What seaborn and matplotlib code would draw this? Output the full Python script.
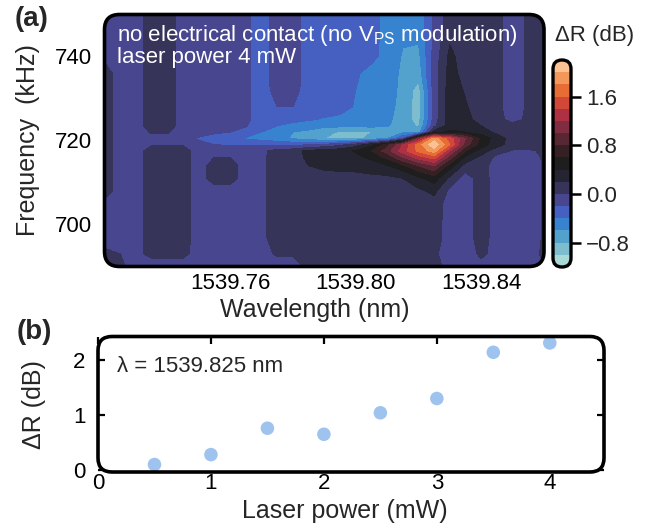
import numpy as np
import matplotlib
matplotlib.use("Agg")
import matplotlib.pyplot as plt
import seaborn as sns
from matplotlib.patches import FancyBboxPatch
from matplotlib.transforms import IdentityTransform

# ---------------- data ----------------
wavelength_nm = [1539.720 + 0.005 * i for i in range(29)]
frequency_khz = [690, 693, 697, 701, 705, 708, 711, 714, 716, 717.5, 719,
                 720.5, 722, 723.5, 725, 728, 732, 736, 740, 744, 748, 750]

# dR map (dB), one row per frequency (bottom -> top), 29 wavelength columns
dR_map = [
    [0.05, 0.05, -0.1, -0.1, -0.1, -0.1, -0.1, -0.1, -0.1, -0.1, -0.1, -0.1, -0.1, 0.05, 0.05, 0.05, 0.05, 0.05, 0.05, 0.05, 0.05, 0.05, -0.05, -0.05, -0.05, -0.05, -0.05, -0.05, 0.0],
    [0.05, 0.0, -0.05, 0.05, 0.05, 0.05, -0.08, -0.08, -0.08, -0.08, -0.08, 0.03, 0.03, 0.03, 0.03, 0.03, 0.03, 0.03, 0.03, 0.03, 0.03, 0.03, -0.08, -0.08, 0.03, -0.05, -0.05, -0.05, 0.02],
    [-0.1, -0.1, -0.1, 0.1, 0.1, 0.1, -0.1, -0.1, -0.1, -0.1, -0.05, 0.1, 0.1, 0.1, 0.1, 0.1, 0.1, 0.1, 0.1, 0.1, 0.1, 0.1, -0.1, -0.1, 0.1, -0.1, -0.1, -0.1, 0.02],
    [-0.08, -0.1, -0.1, 0.1, 0.1, 0.1, -0.1, -0.1, -0.1, -0.1, -0.05, 0.1, 0.1, 0.1, 0.1, 0.1, 0.1, 0.1, 0.1, 0.1, 0.1, 0.1, -0.1, -0.1, 0.1, -0.1, -0.1, -0.1, 0.02],
    [-0.05, -0.1, -0.1, 0.1, 0.1, 0.1, -0.1, -0.1, -0.1, -0.1, -0.05, 0.1, 0.1, 0.1, 0.1, 0.1, 0.1, 0.1, 0.1, 0.1, 0.12, 0.12, -0.1, -0.1, 0.1, -0.1, -0.1, -0.1, 0.02],
    [0.1, -0.1, -0.1, 0.1, 0.1, 0.1, -0.1, -0.1, -0.1, -0.1, -0.05, 0.1, 0.12, 0.12, 0.12, 0.12, 0.12, 0.12, 0.12, 0.13, 0.16, 0.25, -0.05, -0.1, 0.1, -0.1, -0.1, -0.1, 0.02],
    [0.1, -0.1, -0.1, 0.1, 0.1, 0.1, -0.1, 0.1, 0.1, -0.1, -0.05, 0.1, 0.12, 0.14, 0.15, 0.15, 0.15, 0.15, 0.15, 0.2, 0.35, 0.5, 0.15, -0.1, 0.1, -0.1, -0.1, -0.1, 0.02],
    [0.1, -0.1, -0.1, 0.1, 0.1, 0.1, -0.1, 0.1, 0.1, -0.1, -0.05, 0.1, 0.14, 0.2, 0.23, 0.24, 0.25, 0.3, 0.38, 0.55, 0.8, 1.0, 0.5, 0.12, 0.08, -0.1, -0.1, -0.1, 0.02],
    [0.1, -0.1, -0.1, 0.1, 0.1, 0.1, -0.1, 0.0, 0.0, -0.1, -0.05, 0.1, 0.12, 0.24, 0.28, 0.3, 0.35, 0.45, 0.65, 1.0, 1.3, 1.5, 0.9, 0.35, 0.15, -0.05, -0.08, -0.08, 0.02],
    [0.1, -0.1, -0.1, 0.1, 0.1, 0.1, -0.1, -0.05, -0.05, -0.1, -0.05, 0.08, 0.12, 0.25, 0.3, 0.33, 0.42, 0.6, 0.9, 1.3, 1.65, 1.9, 1.2, 0.6, 0.3, 0.08, -0.02, -0.02, 0.02],
    [0.1, -0.1, -0.1, -0.02, -0.02, -0.02, -0.15, -0.2, -0.22, -0.22, -0.22, -0.22, -0.25, -0.2, -0.15, -0.05, 0.1, 0.35, 0.7, 1.2, 1.7, 2.15, 1.6, 0.9, 0.5, 0.28, 0.1, 0.05, 0.05],
    [0.1, -0.1, -0.1, -0.05, -0.05, -0.1, -0.22, -0.3, -0.35, -0.42, -0.48, -0.55, -0.62, -0.7, -0.8, -0.85, -0.85, -0.75, -0.6, -0.2, 1.0, 1.9, 1.5, 1.0, 0.55, 0.3, 0.12, 0.05, 0.1],
    [0.1, -0.1, -0.1, 0.02, 0.02, -0.1, -0.12, -0.16, -0.2, -0.28, -0.4, -0.5, -0.6, -0.65, -0.75, -0.82, -0.85, -0.8, -0.7, -0.66, -0.7, 0.3, 0.45, 0.4, 0.3, 0.15, 0.05, 0.05, 0.1],
    [0.1, -0.1, -0.1, 0.1, 0.1, -0.1, -0.1, -0.1, -0.1, -0.18, -0.35, -0.4, -0.45, -0.5, -0.55, -0.55, -0.55, -0.55, -0.58, -0.72, -0.82, -0.05, 0.3, 0.3, 0.2, 0.08, 0.05, 0.05, 0.1],
    [0.1, -0.1, -0.1, 0.1, 0.1, -0.1, -0.1, -0.1, -0.1, -0.15, -0.32, -0.32, -0.35, -0.38, -0.42, -0.45, -0.5, -0.52, -0.55, -0.7, -0.88, -0.1, 0.3, 0.26, 0.12, 0.05, -0.05, 0.03, 0.1],
    [0.1, -0.1, -0.1, 0.1, 0.1, -0.1, -0.1, -0.1, -0.1, -0.15, -0.3, -0.2, -0.2, -0.3, -0.3, -0.32, -0.42, -0.5, -0.52, -0.68, -0.9, -0.1, 0.3, 0.22, 0.1, 0.05, -0.1, 0.03, 0.1],
    [0.1, -0.1, -0.1, 0.1, 0.1, -0.1, -0.1, -0.1, -0.1, -0.15, -0.3, -0.12, -0.12, -0.3, -0.3, -0.32, -0.4, -0.48, -0.5, -0.66, -0.88, -0.1, 0.3, 0.18, 0.1, 0.05, -0.1, 0.03, 0.1],
    [0.1, -0.1, -0.1, 0.1, 0.1, -0.1, -0.1, -0.1, -0.1, -0.15, -0.3, -0.1, -0.1, -0.3, -0.3, -0.3, -0.38, -0.45, -0.5, -0.64, -0.72, -0.1, 0.28, 0.12, 0.1, 0.05, -0.1, 0.03, 0.1],
    [-0.05, -0.1, -0.1, 0.1, 0.1, -0.1, -0.1, -0.1, -0.1, -0.15, -0.3, -0.1, -0.1, -0.3, -0.3, -0.3, -0.32, -0.36, -0.45, -0.62, -0.66, -0.12, 0.25, 0.1, 0.1, 0.05, -0.1, 0.03, 0.1],
    [-0.1, -0.1, -0.1, 0.1, 0.1, -0.1, -0.1, -0.1, -0.1, -0.15, -0.3, -0.1, -0.1, -0.3, -0.3, -0.3, -0.32, -0.35, -0.45, -0.58, -0.58, -0.15, 0.18, 0.1, 0.1, 0.05, -0.1, 0.03, 0.1],
    [-0.1, -0.1, -0.1, 0.1, 0.1, -0.1, -0.1, -0.1, -0.1, -0.15, -0.3, -0.1, -0.1, -0.3, -0.3, -0.3, -0.32, -0.35, -0.45, -0.55, -0.55, -0.15, 0.1, 0.1, 0.1, 0.05, -0.1, 0.03, 0.1],
    [-0.1, -0.1, -0.1, 0.1, 0.1, -0.1, -0.1, -0.1, -0.1, -0.15, -0.3, -0.1, -0.1, -0.3, -0.3, -0.3, -0.32, -0.35, -0.45, -0.55, -0.55, -0.15, 0.1, 0.1, 0.1, 0.05, -0.1, 0.03, 0.1],
]

laser_power_mw = [0.5, 1.0, 1.5, 2.0, 2.5, 3.0, 3.5, 4.0]
dR_peak_db = [0.10, 0.28, 0.76, 0.65, 1.04, 1.30, 2.14, 2.31]

wl_ticks = [1539.76, 1539.80, 1539.84]
freq_ticks = [700, 720, 740]
cbar_ticks = [-0.8, 0.0, 0.8, 1.6]
cbar_ticklabels = ["\u22120.8", "0.0", "0.8", "1.6"]
power_ticks = [0, 1, 2, 3, 4]
dR_ticks = [0, 1, 2]

# ---------------- style ----------------
sns.set_theme(style="ticks")
plt.rcParams["font.family"] = ["Liberation Sans", "DejaVu Sans"]
plt.rcParams["mathtext.fontset"] = "custom"
plt.rcParams["mathtext.rm"] = "Liberation Sans"
plt.rcParams["axes.unicode_minus"] = True

W, H = 650, 527
fig = plt.figure(figsize=(W / 100, H / 100), dpi=100)

def add_axes_px(x0, y_top, x1, y_bot):
    return fig.add_axes([x0 / W, 1 - y_bot / H, (x1 - x0) / W, (y_bot - y_top) / H])

def rounded_frame(x0, y_top, x1, y_bot, r, lw):
    p = FancyBboxPatch((x0, H - y_bot), x1 - x0, y_bot - y_top,
                       boxstyle=f"round,pad=0,rounding_size={r}",
                       transform=IdentityTransform(), fc="none", ec="black",
                       lw=lw, zorder=5)
    fig.add_artist(p)
    return p

# ---------------- panel (a) ----------------
A = (104.5, 14.5, 544, 266.5)
ax1 = add_axes_px(*A)
cmap = sns.color_palette("icefire", as_cmap=True)
levels = np.round(np.linspace(-1.2, 2.2, 18), 2)
cs = ax1.contourf(wavelength_nm, frequency_khz, np.array(dR_map),
                  levels=levels, cmap=cmap)
frame1 = rounded_frame(*A, r=15, lw=2.6)
cs.set_clip_path(frame1)
ax1.set_xlim(1539.72, 1539.86)
ax1.set_ylim(690, 750)
ax1.patch.set_visible(False)
for s in ax1.spines.values():
    s.set_visible(False)
ax1.set_xticks(wl_ticks)
ax1.set_xticklabels([f"{v:.2f}" for v in wl_ticks])
ax1.set_yticks(freq_ticks)
ax1.tick_params(direction="in", length=5, width=1.1, color="#1a1a2e",
                top=True, right=True, bottom=True, left=True,
                labelsize=16, labelcolor="black")
ax1.tick_params(axis="x", pad=5)
ax1.tick_params(axis="y", pad=9)
ax1.set_xlabel("Wavelength (nm)", fontsize=18)
ax1.set_ylabel("Frequency  (kHz)", fontsize=18)
ax1.xaxis.set_label_coords(0.478, -0.125)
ax1.xaxis.label.set_va("top")
ax1.yaxis.set_label_coords(-0.147, 0.5)
ax1.text(0.028, 0.895, r"no electrical contact (no V$_{\mathregular{PS}}$ modulation)",
         transform=ax1.transAxes, color="white", fontsize=16, va="baseline", ha="left")
ax1.text(0.028, 0.807, "laser power 4 mW", transform=ax1.transAxes,
         color="white", fontsize=16, va="baseline", ha="left")

# ---------------- colorbar ----------------
C = (553, 60, 571, 267)
cax = add_axes_px(*C)
cb = fig.colorbar(cs, cax=cax, ticks=cbar_ticks)
cb.set_ticklabels(cbar_ticklabels)
cb.outline.set_visible(False)
cframe = rounded_frame(*C, r=9, lw=2.4)
if cb.solids is not None:
    cb.solids.set_clip_path(cframe)
cax.tick_params(direction="out", length=7, width=1.8, labelsize=16, pad=4,
                color="black")
fig.text(555 / W, 1 - 36 / H, "\u0394R (dB)", fontsize=16, ha="left", va="center")

# ---------------- panel (b) ----------------
B = (98, 336.5, 604, 472)
ax2 = add_axes_px(*B)
sns.scatterplot(x=laser_power_mw, y=dR_peak_db, ax=ax2, color="#9ec3ee",
                s=95, edgecolor="none", linewidth=0, zorder=3, clip_on=False)
rounded_frame(*B, r=14, lw=2.6)
ax2.set_xlim(0, 4.48)
ax2.set_ylim(-0.036, 2.427)
ax2.patch.set_visible(False)
for s in ax2.spines.values():
    s.set_visible(False)
ax2.set_xticks(power_ticks)
ax2.set_yticks(dR_ticks)
ax2.tick_params(direction="in", length=5, width=1.6, color="black",
                top=True, bottom=False, left=True, right=True,
                labelsize=16, labelcolor="black")
ax2.tick_params(axis="x", pad=1)
ax2.tick_params(axis="y", pad=9)
ax2.set_xlabel("Laser power (mW)", fontsize=18)
ax2.set_ylabel("\u0394R (dB)", fontsize=18)
ax2.xaxis.set_label_coords(0.488, -0.2)
ax2.xaxis.label.set_va("top")
ax2.yaxis.set_label_coords(-0.103, 0.5)
ax2.text(0.0375, 0.74, "\u03bb = 1539.825 nm", transform=ax2.transAxes,
         fontsize=16, va="baseline", ha="left")

fig.text(15 / W, 1 - 19 / H, "(a)", fontsize=20, fontweight="bold", va="center", ha="left")
fig.text(17 / W, 1 - 332 / H, "(b)", fontsize=20, fontweight="bold", va="center", ha="left")

fig.savefig("out.png", dpi=100)
